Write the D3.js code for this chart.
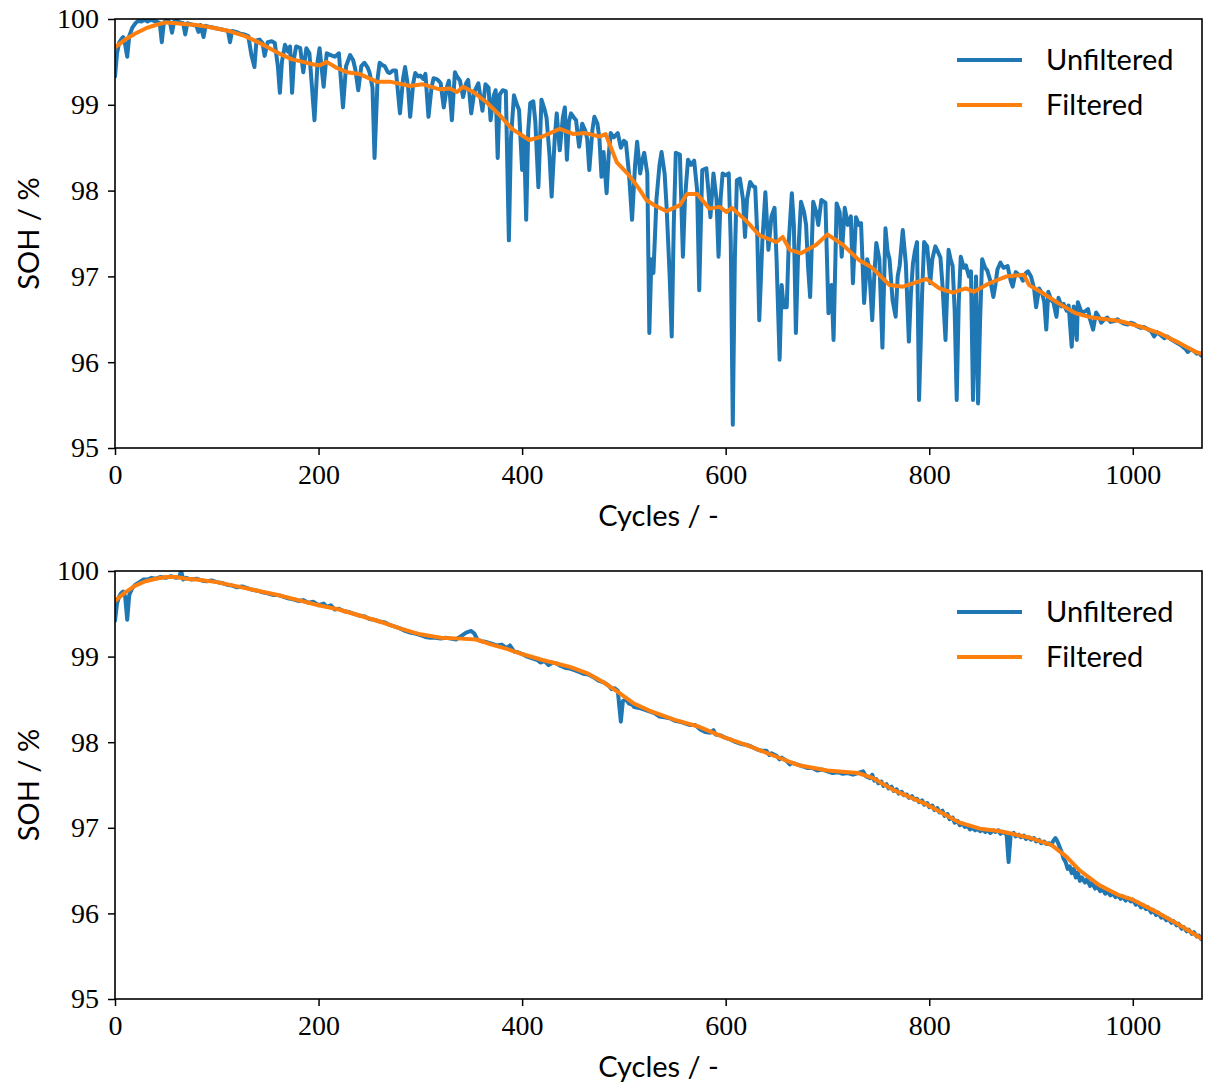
<!DOCTYPE html>
<html>
<head>
<meta charset="utf-8">
<script src="https://cdn.jsdelivr.net/npm/d3@7"></script>
<style>
  html, body { margin: 0; padding: 0; background: #fff; }
  svg { display: block; }
  .tick text { font-family: "Liberation Serif", "DejaVu Serif", serif; font-size: 28px; fill: #000; }
  .tick line { stroke: #000; stroke-width: 1.5px; }
  .domain { display: none; }
  .lbl { font-family: Lato, "Open Sans", sans-serif; font-size: 29px; fill: #000; }
</style>
</head>
<body>
<svg id="chart" width="1205" height="1083"></svg>
<script>
// State-of-health traces: [cycle, SOH %]
const topUnfiltered = [
  [0,99.33],[2,99.6],[4,99.72],[6,99.76],[8,99.79],[10,99.7],[12,99.56],[14,99.8],[17,99.9],[20,99.95],[23,99.98],[26,99.97],[29,99.99],[32,99.97],[35,99.99],[38,99.98],[41,99.97],[44,99.95],[46,99.73],[48,99.96],[51,99.99],[54,99.96],[56,99.84],[58,99.97],[61,99.98],[64,99.96],[67,99.95],[69,99.82],[71,99.95],[74,99.94],[77,99.93],[80,99.92],[82,99.85],[84,99.93],[87,99.79],[89,99.92],[92,99.91],[96,99.9],[100,99.89],[104,99.88],[108,99.87],[111,99.86],[113,99.73],[115,99.86],[119,99.85],[123,99.83],[127,99.82],[131,99.8],[134,99.58],[137,99.44],[139,99.75],[142,99.76],[145,99.72],[147,99.57],[150,99.73],[154,99.74],[157,99.72],[160,99.45],[162,99.14],[164,99.5],[167,99.7],[170,99.62],[172,99.68],[174,99.14],[176,99.55],[178,99.68],[182,99.66],[185,99.38],[188,99.66],[191,99.6],
  [196,98.82],[199,99.5],[201,99.66],[205,99.21],[208,99.6],[212,99.58],[216,99.56],[220,99.6],[224,98.97],[227,99.45],[231,99.58],[234,99.52],[236,99.42],[239,99.17],[242,99.45],[245,99.49],[248,99.44],[250,99.38],[253,99.2],[255,98.38],[258,99.3],[260,99.49],[263,99.46],[265,99.45],[268,99.38],[270,99.37],[273,99.4],[276,99.4],[280,98.9],[283,99.3],[285,99.44],[288,99.2],[290,98.86],[293,99.25],[295,99.37],[298,99.33],[300,99.34],[303,99.3],[305,99.36],[308,98.86],[311,99.2],[313,99.31],[316,99.3],[318,99.28],[320,99.25],[323,98.97],[326,99.2],[328,99.28],[331,98.82],[334,99.38],[336,99.33],[339,99.28],[342,99.09],[345,99.25],[347,99.29],[350,98.9],[353,99.15],[357,99.25],[361,98.93],[364,99.24],[367,99.2],[369,98.82],[372,99.1],[374,99.17],[376,98.38],[378,99.12],[381,99.17],[384,99.16],
  [387,97.42],[389,98.6],[392,99.11],[395,99.0],[397,98.94],[400,98.24],[402,98.6],[404,97.66],[406,98.7],[408,99.02],[411,99.04],[413,98.8],[416,98.04],[419,99.06],[422,98.95],[424,98.85],[427,98.4],[429,97.93],[432,98.6],[434,98.9],[437,98.47],[440,98.85],[442,98.97],[444,98.36],[446,98.8],[448,98.9],[451,98.85],[453,98.82],[456,98.51],[459,98.78],[462,98.7],[464,98.6],[466,98.24],[469,98.7],[471,98.86],[474,98.78],[476,98.6],[478,98.16],[480,98.45],[483,97.97],[485,98.4],[487,98.67],[490,98.62],[494,98.67],[497,98.5],[500,98.58],[502,98.56],[505,98.2],[508,97.66],[511,98.3],[513,98.57],[516,98.2],[518,98.35],[520,98.44],[523,98.2],[525,96.34],[527,97.2],[529,97.04],[531,97.6],[532,97.9],[535,98.3],[537,98.45],[540,98.2],[542,97.8],[545,97.0],[547,96.3],[549,97.6],[551,98.44],[555,98.42],
  [558,97.23],[560,97.9],[563,98.36],[566,98.3],[569,98.35],[572,98.0],[574,96.84],[576,97.8],[577,98.24],[581,98.26],[583,98.0],[585,97.69],[588,98.2],[591,97.9],[593,97.23],[595,97.9],[597,98.2],[600,98.18],[603,98.2],[605,97.4],[607,95.27],[609,97.2],[611,98.12],[614,98.14],[617,97.9],[619,97.46],[621,97.9],[624,98.1],[627,98.05],[629,98.04],[631,97.5],[633,96.49],[636,97.4],[639,97.98],[642,97.31],[645,97.7],[648,97.8],[650,97.2],[653,96.03],[655,96.9],[657,96.64],[660,96.64],[662,97.4],[665,97.97],[667,97.6],[669,96.34],[671,97.2],[674,97.87],[677,97.75],[679,97.6],[681,97.1],[683,96.76],[685,97.5],[686,97.87],[689,97.75],[691,97.6],[694,97.89],[698,97.86],[701,96.57],[704,96.9],[706,96.26],[708,97.3],[709,97.85],[712,97.75],[714,97.23],[717,97.8],[720,97.6],
  [723,97.7],[725,96.92],[728,97.69],[731,97.6],[733,97.62],[736,96.69],[739,97.2],[741,97.1],[744,96.49],[746,97.0],[748,97.39],[751,97.2],[754,96.17],[757,97.56],[759,97.3],[761,97.2],[764,96.72],[767,96.53],[769,97.0],[771,97.13],[774,97.54],[777,97.15],[780,96.24],[782,96.8],[784,97.15],[786,97.3],[788,97.4],[790,95.56],[793,96.8],[795,97.4],[798,97.35],[801,96.92],[803,97.2],[806,97.35],[808,97.3],[811,97.22],[813,96.9],[816,96.26],[819,97.31],[821,97.2],[823,97.12],[825,96.6],[827,95.56],[829,96.7],[831,97.23],[834,97.1],[836,97.13],[839,97.0],[841,97.06],[843,95.56],[845,96.6],[846,97.0],[848,95.52],[850,96.5],[852,97.2],[855,97.1],[857,97.07],[860,96.95],[863,96.76],[865,96.9],[867,97.08],[870,97.16],[873,97.1],[877,97.12],[880,96.95],[882,96.88],[885,97.05],[888,97.02],[890,97.0],
  [892,96.95],[895,97.04],[897,97.06],[900,97.0],[903,96.86],[905,96.64],[908,96.86],[911,96.8],[913,96.7],[915,96.38],[917,96.82],[920,96.72],[922,96.7],[925,96.53],[927,96.75],[930,96.65],[932,96.68],[935,96.6],[937,96.66],[940,96.18],[942,96.65],[945,96.26],[946,96.7],[949,96.6],[951,96.58],[954,96.6],[956,96.62],[958,96.5],[961,96.38],[964,96.58],[967,96.52],[969,96.46],[972,96.5],[975,96.52],[978,96.47],[982,96.48],[985,96.5],[988,96.47],[991,96.45],[995,96.44],[998,96.46],[1001,96.45],[1004,96.42],[1008,96.4],[1011,96.41],[1014,96.39],[1018,96.36],[1021,96.3],[1024,96.35],[1026,96.33],[1029,96.3],[1031,96.28],[1034,96.3],[1037,96.27],[1040,96.25],[1044,96.22],[1047,96.2],[1049,96.18],[1052,96.15],[1054,96.12],[1057,96.15],[1060,96.13],[1063,96.1],[1065,96.11],[1067,96.08]
];

const topFiltered = [
  [0,99.67],[10,99.76],[20,99.83],[30,99.89],[40,99.93],[50,99.96],[60,99.95],[70,99.94],[80,99.93],[95,99.9],[112,99.86],[128,99.8],[144,99.71],[161,99.6],[174,99.53],[185,99.5],[195,99.47],[201,99.46],[208,99.5],[218,99.43],[228,99.38],[240,99.36],[257,99.27],[270,99.27],[290,99.22],[302,99.24],[319,99.18],[329,99.19],[336,99.15],[342,99.21],[352,99.15],[365,99.03],[378,98.88],[390,98.72],[407,98.59],[420,98.63],[437,98.72],[450,98.66],[462,98.67],[476,98.63],[482,98.66],[493,98.33],[505,98.18],[515,98.02],[522,97.89],[530,97.83],[542,97.76],[555,97.83],[562,97.96],[572,97.96],[584,97.79],[594,97.81],[601,97.75],[606,97.8],[620,97.65],[633,97.48],[650,97.4],[656,97.46],[663,97.31],[674,97.27],[689,97.37],[700,97.49],[715,97.37],[731,97.19],[744,97.1],[761,96.9],[774,96.88],[787,96.93],[797,96.97],[810,96.86],[823,96.81],[836,96.86],[844,96.82],[859,96.92],[876,97.0],[893,97.02],[898,96.9],[911,96.81],[928,96.68],[944,96.57],[960,96.52],[987,96.48],[1009,96.41],[1026,96.34],[1043,96.24],[1062,96.12],[1067,96.1]
];

const bottomUnfiltered = [
  [0,99.42],[2,99.62],[4,99.7],[6,99.74],[8,99.76],[10,99.7],[12,99.43],[14,99.72],[17,99.8],[20,99.84],[24,99.87],[28,99.9],[32,99.9],[36,99.92],[40,99.91],[45,99.93],[50,99.92],[55,99.94],[60,99.92],[63,99.93],[65,100.0],[67,99.9],[70,99.92],[75,99.9],[80,99.91],[85,99.89],[90,99.88],[95,99.89],[100,99.87],[105,99.86],[110,99.84],[115,99.83],[120,99.81],[125,99.82],[130,99.8],[135,99.78],[140,99.77],[145,99.75],[150,99.74],[155,99.72],[160,99.72],[165,99.7],[170,99.68],[175,99.67],[180,99.65],[185,99.66],[190,99.63],[195,99.64],[200,99.6],[205,99.62],[208,99.58],[212,99.6],[216,99.55],[220,99.56],[225,99.53],[230,99.52],[235,99.5],[240,99.48],[245,99.47],[250,99.44],[255,99.43],[260,99.41],[265,99.4],[270,99.37],[275,99.35],[280,99.33],[285,99.3],[290,99.28],[295,99.27],[300,99.25],[305,99.23],[310,99.22],[315,99.22],[320,99.21],[325,99.22],[330,99.21],[335,99.2],[340,99.24],[345,99.28],[350,99.3],[353,99.27],[356,99.2],[360,99.18],[365,99.17],[370,99.15],[375,99.13],[380,99.14],[385,99.1],[388,99.13],[392,99.06],[396,99.05],[400,99.03],[405,99.0],[410,98.98],[415,98.96],[418,98.93],[422,98.95],[426,98.9],[430,98.93],[434,98.92],[438,98.89],[442,98.87],[447,98.86],[452,98.84],[456,98.82],[460,98.8],[465,98.79],[470,98.76],[475,98.72],[480,98.7],[485,98.66],[488,98.62],[491,98.63],[494,98.6],[497,98.24],[499,98.48],[502,98.5],[505,98.45],[508,98.44],[510,98.41],[515,98.4],[520,98.38],[525,98.36],[530,98.34],[535,98.3],[540,98.29],[545,98.28],[550,98.25],[555,98.24],[560,98.22],[565,98.2],[570,98.2],[575,98.15],[580,98.12],[585,98.11],[588,98.14],[590,98.09],[595,98.08],[600,98.05],[605,98.03],[610,98.0],[615,97.98],[620,97.97],[625,97.95],[630,97.92],[635,97.9],[640,97.9],[643,97.85],[645,97.87],[650,97.84],[653,97.8],[655,97.82],[660,97.78],[663,97.74],[665,97.76],[670,97.74],[675,97.72],[680,97.7],[685,97.7],[690,97.67],[695,97.68],[700,97.66],[705,97.64],[710,97.65],[715,97.63],[720,97.64],[725,97.62],[730,97.64],[735,97.66],[738,97.6],
  [742,97.58],[744,97.62],[746,97.55],[748,97.57],[750,97.52],[753,97.54],[755,97.49],[758,97.51],[760,97.46],[763,97.48],[765,97.43],[768,97.45],[770,97.4],[773,97.42],[775,97.38],[778,97.39],[780,97.35],[783,97.37],[785,97.33],[788,97.34],[790,97.3],[793,97.32],[795,97.27],[798,97.29],[800,97.24],[803,97.26],[805,97.21],[808,97.23],[810,97.18],[813,97.2],[815,97.14],[818,97.16],[820,97.1],[823,97.12],[825,97.06],[828,97.08],[830,97.03],[833,97.05],[835,97.01],[838,97.02],[840,96.98],[843,97.0],[845,96.97],[848,96.99],[850,96.96],[853,96.98],[855,96.95],[858,96.97],[860,96.94],[863,96.97],[865,96.95],[868,96.97],[870,96.93],[873,96.95],[876,96.92],[878,96.6],[880,96.92],[883,96.94],[885,96.9],[888,96.92],[890,96.89],[893,96.91],[895,96.87],[898,96.89],[900,96.86],[903,96.88],[905,96.84],[908,96.86],[910,96.82],[913,96.84],[915,96.81],[918,96.82],[920,96.8],[922,96.85],[924,96.88],[926,96.84],[928,96.78],[930,96.72],[932,96.64],[934,96.6],[936,96.52],[938,96.55],[940,96.47],[942,96.52],[944,96.42],[946,96.48],[948,96.38],[950,96.42],[953,96.36],[955,96.4],[958,96.32],[960,96.36],[963,96.29],[965,96.32],[968,96.26],[970,96.29],[973,96.23],[975,96.26],[978,96.21],[980,96.24],[983,96.19],[985,96.22],[988,96.17],[990,96.2],[993,96.15],[995,96.18],[998,96.14],[1000,96.16],[1003,96.1],[1005,96.13],[1008,96.07],[1010,96.1],[1013,96.05],[1015,96.07],[1018,96.01],[1020,96.04],[1023,95.98],[1025,96.01],[1028,95.95],[1030,95.97],[1033,95.92],[1035,95.94],[1038,95.89],[1040,95.91],[1043,95.86],[1045,95.88],[1048,95.82],[1050,95.84],[1053,95.79],[1055,95.81],[1058,95.76],[1060,95.78],[1063,95.73],[1065,95.74],[1067,95.7]
];

const bottomFiltered = [
  [0,99.65],[10,99.75],[20,99.83],[30,99.88],[40,99.91],[50,99.93],[60,99.93],[70,99.91],[80,99.9],[100,99.87],[120,99.82],[140,99.77],[160,99.72],[180,99.66],[200,99.6],[220,99.55],[240,99.48],[260,99.41],[280,99.33],[300,99.26],[320,99.22],[340,99.21],[355,99.2],[370,99.14],[385,99.09],[400,99.03],[420,98.96],[447,98.88],[465,98.8],[480,98.7],[495,98.58],[510,98.45],[525,98.37],[550,98.26],[574,98.18],[598,98.06],[620,97.97],[650,97.83],[672,97.73],[700,97.67],[730,97.64],[745,97.58],[765,97.44],[798,97.27],[830,97.06],[850,96.99],[870,96.96],[900,96.88],[920,96.8],[935,96.66],[947,96.51],[967,96.33],[985,96.22],[1000,96.16],[1026,96.0],[1045,95.87],[1067,95.71]
];

const xTicks = [0, 200, 400, 600, 800, 1000];
const yTicks = [95, 96, 97, 98, 99, 100];
const seriesNames = ["Unfiltered", "Filtered"];
const seriesColors = ["#1f77b4", "#ff7f0e"];

const svg = d3.select("#chart");
const left = 115, right = 1202;

const panels = [
  { top: 19, bottom: 448, raw: topUnfiltered, smooth: topFiltered, id: "p1" },
  { top: 571, bottom: 999, raw: bottomUnfiltered, smooth: bottomFiltered, id: "p2" }
];

panels.forEach(p => {
  const x = d3.scaleLinear().domain([0, 1068]).range([left, right]);
  const y = d3.scaleLinear().domain([95, 100]).range([p.bottom, p.top]);
  const g = svg.append("g");

  g.append("clipPath").attr("id", "clip-" + p.id)
    .append("rect").attr("x", left).attr("y", p.top)
    .attr("width", right - left).attr("height", p.bottom - p.top);

  const line = d3.line().x(d => x(d[0])).y(d => y(d[1]));
  const plot = g.append("g").attr("clip-path", `url(#clip-${p.id})`);
  [p.raw, p.smooth].forEach((data, i) => {
    plot.append("path").datum(data)
      .attr("d", line)
      .attr("fill", "none")
      .attr("stroke", seriesColors[i])
      .attr("stroke-width", 4)
      .attr("stroke-linejoin", "round")
      .attr("stroke-linecap", "round");
  });

  // axes
  g.append("g").attr("transform", `translate(0,${p.bottom})`)
    .call(d3.axisBottom(x).tickValues(xTicks).tickSize(7).tickPadding(9).tickFormat(d3.format("d")));
  g.append("g").attr("transform", `translate(${left},0)`)
    .call(d3.axisLeft(y).tickValues(yTicks).tickSize(7).tickPadding(9).tickFormat(d3.format("d")));

  // frame
  g.append("rect").attr("x", left).attr("y", p.top)
    .attr("width", right - left).attr("height", p.bottom - p.top)
    .attr("fill", "none").attr("stroke", "#000").attr("stroke-width", 1.6);

  // axis titles
  g.append("text").attr("class", "lbl")
    .attr("x", (left + right) / 2).attr("y", p.bottom + 78)
    .attr("text-anchor", "middle").text("Cycles / -");
  g.append("text").attr("class", "lbl")
    .attr("transform", `translate(39,${(p.top + p.bottom) / 2}) rotate(-90)`)
    .attr("text-anchor", "middle").text("SOH / %");

  // legend
  seriesNames.forEach((name, i) => {
    const ly = p.top + 41 + i * 45;
    g.append("line").attr("x1", 957).attr("x2", 1022).attr("y1", ly).attr("y2", ly)
      .attr("stroke", seriesColors[i]).attr("stroke-width", 4);
    g.append("text").attr("class", "lbl").attr("x", 1046).attr("y", ly + 10).text(name);
  });
});
</script>
</body>
</html>
